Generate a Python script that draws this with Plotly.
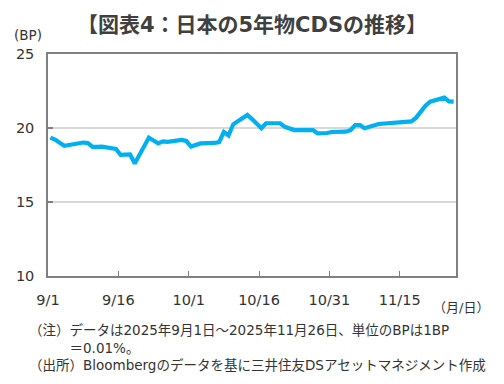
import plotly.graph_objects as go
import pandas as pd

dates = [
    "2025-09-01", "2025-09-02", "2025-09-03", "2025-09-04", "2025-09-05",
    "2025-09-08", "2025-09-09", "2025-09-10", "2025-09-11", "2025-09-12",
    "2025-09-15", "2025-09-16", "2025-09-17", "2025-09-18", "2025-09-19",
    "2025-09-22", "2025-09-23", "2025-09-24", "2025-09-25", "2025-09-26",
    "2025-09-29", "2025-09-30", "2025-10-01", "2025-10-02", "2025-10-03",
    "2025-10-06", "2025-10-07", "2025-10-08", "2025-10-09", "2025-10-10",
    "2025-10-13", "2025-10-14", "2025-10-15", "2025-10-16", "2025-10-17",
    "2025-10-20", "2025-10-21", "2025-10-22", "2025-10-23", "2025-10-24",
    "2025-10-27", "2025-10-28", "2025-10-29", "2025-10-30", "2025-10-31",
    "2025-11-03", "2025-11-04", "2025-11-05", "2025-11-06", "2025-11-07",
    "2025-11-10", "2025-11-11", "2025-11-12", "2025-11-13", "2025-11-14",
    "2025-11-17", "2025-11-18", "2025-11-19", "2025-11-20", "2025-11-21",
    "2025-11-24", "2025-11-25", "2025-11-26",
]
cds = [
    19.35, 19.22, 19.00, 18.80, 18.85,
    19.02, 18.98, 18.72, 18.72, 18.74,
    18.58, 18.18, 18.20, 18.22, 17.60,
    19.35, 19.15, 18.96, 19.10, 19.06,
    19.19, 19.12, 18.75, 18.88, 18.96,
    18.99, 19.05, 19.73, 19.50, 20.25,
    20.88, 20.60, 20.25, 19.98, 20.32,
    20.32, 20.08, 19.95, 19.86, 19.86,
    19.86, 19.64, 19.64, 19.66, 19.73,
    19.75, 19.85, 20.20, 20.20, 19.98,
    20.27, 20.30, 20.33, 20.35, 20.37,
    20.45, 20.70, 21.10, 21.50, 21.78,
    22.05, 21.80, 21.78,
]
x_tick_vals = ["2025-09-01", "2025-09-16", "2025-10-01", "2025-10-16", "2025-10-31", "2025-11-15"]
x_tick_text = ["9/1", "9/16", "10/1", "10/16", "10/31", "11/15"]
y_tick_vals = [10, 15, 20, 25]

FONT = "DejaVu Sans, Noto Sans CJK JP"
TXT = "#333333"

# points plotted at the middle of each day's bucket (Excel date-axis style)
xs = pd.to_datetime(dates) + pd.Timedelta(hours=12)

fig = go.Figure(go.Scatter(
    x=xs, y=cds, mode="lines",
    line=dict(color="#00B0F0", width=4.2),
    hoverinfo="skip",
))

W, H = 504, 384
L, R, T, B = 48, 48, 54, 108

fig.update_layout(
    width=W, height=H,
    margin=dict(l=L, r=R, t=T, b=B),
    paper_bgcolor="white", plot_bgcolor="white",
    showlegend=False,
    font=dict(family=FONT, color=TXT, size=14),
    title=dict(
        text="<b>【図表4：日本の5年物CDSの推移】</b>",
        x=0.5, xanchor="center", y=1 - 25 / H, yanchor="middle",
        font=dict(family=FONT, size=21, color="#404040"),
    ),
)

fig.update_xaxes(
    type="date",
    range=["2025-09-01", "2025-11-27"],
    tickvals=x_tick_vals, ticktext=x_tick_text,
    ticks="inside", ticklen=5, tickcolor="#808080", tickwidth=1,
    showline=True, linecolor="#808080", linewidth=1.5, mirror=True,
    showgrid=False, zeroline=False,
    ticklabelstandoff=10,
    tickfont=dict(family=FONT, size=14.5, color=TXT),
)
fig.update_yaxes(
    range=[10, 25],
    tickvals=y_tick_vals,
    ticks="inside", ticklen=5, tickcolor="#808080", tickwidth=1.5,
    showline=True, linecolor="#808080", linewidth=1.5, mirror=True,
    showgrid=True, gridcolor="#D9D9D9", gridwidth=1.5, zeroline=False,
    ticklabelstandoff=9,
    tickfont=dict(family=FONT, size=14.5, color=TXT),
)


def px(xp):
    return (xp - L) / (W - L - R)


def py(yp):
    return 1 - (yp - T) / (H - T - B)


fig.add_annotation(text="(BP)", xref="paper", yref="paper", x=px(12), y=py(35),
                   xanchor="left", yanchor="middle", showarrow=False,
                   font=dict(family=FONT, size=13.5, color=TXT))
fig.add_annotation(text="（月/日）", xref="paper", yref="paper", x=px(491), y=py(307),
                   xanchor="right", yanchor="middle", showarrow=False,
                   font=dict(family=FONT, size=13, color=TXT))
notes = ("（注）データは2025年9月1日～2025年11月26日、単位のBPは1BP<br>"
         "\u3000\u3000\u3000＝0.01%。<br>"
         "（出所）Bloombergのデータを基に三井住友DSアセットマネジメント作成")
fig.add_annotation(text=notes, xref="paper", yref="paper", x=px(27), y=py(347.5),
                   xanchor="left", yanchor="middle", align="left", showarrow=False,
                   font=dict(family=FONT, size=13.5, color=TXT))

fig.write_html("out.html", config={"displayModeBar": False},
               post_script="document.body.style.margin='0';")
